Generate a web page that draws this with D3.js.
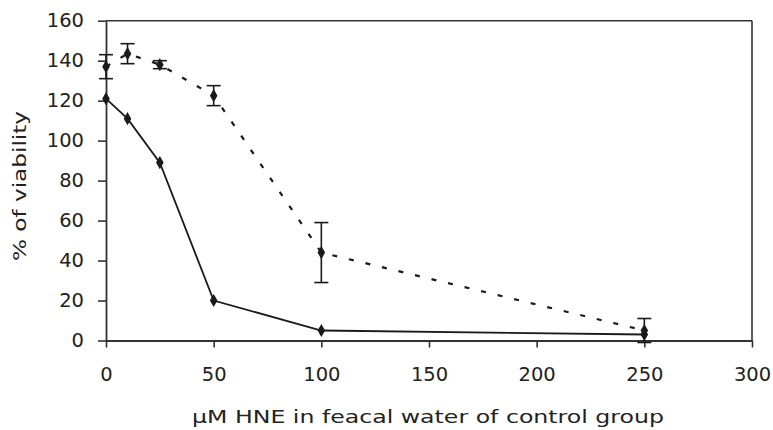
<!DOCTYPE html>
<html><head><meta charset="utf-8">
<script src="https://cdn.jsdelivr.net/npm/d3@7"></script>
<style>
body{margin:0;background:#fff;}
svg{display:block;font-family:"DejaVu Sans",sans-serif;}
</style></head>
<body>
<svg id="c" width="773" height="430"></svg>
<script>
const xTicks = [0,50,100,150,200,250,300];
const yTicks = [0,20,40,60,80,100,120,140,160];
const doses = [0,10,25,50,100,250];
const solidValues = [121,111,89,20,5,3];
const dashedValues = [137,143.5,138,122.5,44,5];
const dashedErrors = [6,5,2,5,15,6];

const svg = d3.select("#c");
const x = d3.scaleLinear().domain([0,300]).range([106,752]);
const y = d3.scaleLinear().domain([0,160]).range([340.5,20.7]);
const ink = "#1a1a1a";

// plot border (top and right)
svg.append("line").attr("x1",x(0)).attr("x2",x(300)).attr("y1",y(160)).attr("y2",y(160))
  .attr("stroke","#333").attr("stroke-width",1.6);
svg.append("line").attr("x1",x(300)).attr("x2",x(300)).attr("y1",y(160)).attr("y2",y(0))
  .attr("stroke","#333").attr("stroke-width",1.6);

const yAxis = svg.append("g").attr("transform",`translate(${x(0)},0)`)
  .call(d3.axisLeft(y).tickValues(yTicks).tickSize(8).tickSizeOuter(0).tickPadding(14));
const xAxis = svg.append("g").attr("transform",`translate(0,${y(0)})`)
  .call(d3.axisBottom(x).tickValues(xTicks).tickSize(7).tickSizeOuter(0).tickPadding(20));
[yAxis,xAxis].forEach(a=>{
  a.attr("font-family",null);
  a.select(".domain").attr("stroke","#333").attr("stroke-width",1.8);
  a.selectAll(".tick line").attr("stroke","#333").attr("stroke-width",1.6);
  a.selectAll(".tick text").attr("fill","#222").style("font-size","19.5px");
});

// solid series
const line = d3.line().x((d,i)=>x(doses[i])).y(d=>y(d));
svg.append("path").datum(solidValues).attr("d",line).attr("fill","none")
  .attr("stroke",ink).attr("stroke-width",1.8);

// dashed series
svg.append("path").datum(dashedValues).attr("d",line).attr("fill","none")
  .attr("stroke",ink).attr("stroke-width",2.2).attr("stroke-dasharray","5,12");

// error bars
const eb = svg.append("g").attr("stroke",ink).attr("stroke-width",1.6);
dashedValues.forEach((v,i)=>{
  const cx = x(doses[i]), e = dashedErrors[i];
  eb.append("line").attr("x1",cx).attr("x2",cx).attr("y1",y(v+e)).attr("y2",y(v-e));
  eb.append("line").attr("x1",cx-7).attr("x2",cx+7).attr("y1",y(v+e)).attr("y2",y(v+e));
  eb.append("line").attr("x1",cx-7).attr("x2",cx+7).attr("y1",y(v-e)).attr("y2",y(v-e));
});

// markers
const diamond = d3.symbol().type(d3.symbolDiamond).size(50);
[solidValues,dashedValues].forEach(vals=>{
  svg.append("g").selectAll("path").data(vals).join("path")
    .attr("d",diamond).attr("transform",(d,i)=>`translate(${x(doses[i])},${y(d)})`)
    .attr("fill",ink);
});

// axis titles
svg.append("text").attr("x",428).attr("y",423).attr("text-anchor","middle")
  .attr("fill","#222").style("font-size","18px")
  .attr("textLength",472).attr("lengthAdjust","spacingAndGlyphs")
  .text("μM HNE in feacal water of control group");
svg.append("text").attr("transform","translate(26,186) rotate(-90)").attr("text-anchor","middle")
  .attr("fill","#222").style("font-size","17px")
  .attr("textLength",150).attr("lengthAdjust","spacingAndGlyphs")
  .text("% of viability");
</script>
</body></html>
